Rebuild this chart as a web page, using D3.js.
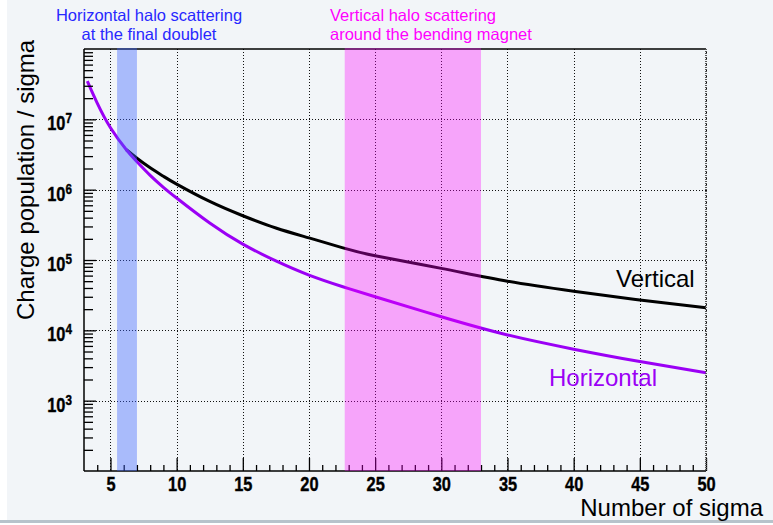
<!DOCTYPE html>
<html>
<head>
<meta charset="utf-8">
<script src="https://cdn.jsdelivr.net/npm/d3@7"></script>
<style>
	html, body { margin: 0; padding: 0; background: #ffffff; }
	svg { display: block; font-family: "Liberation Sans", Arial, sans-serif; }
</style>
</head>
<body>
<svg id="chart" width="773" height="525"></svg>
<script>
// values
var sigmaH = [3.25, 4, 5, 6.2, 7, 8, 9, 10, 12.5, 15, 17.5, 20, 22.5, 25, 30, 35, 40, 45, 50];
var horizontal = [3.5e7, 1.7e7, 7.6e6, 3.7e6, 2.5e6, 1.6e6, 1.08e6, 7.6e5, 3.35e5, 1.68e5, 9.7e4, 6.1e4, 4.2e4, 3.0e4, 1.56e4, 8.6e3, 5.4e3, 3.6e3, 2.5e3];
var sigmaV = [6.2, 7, 8, 9, 10, 12.5, 15, 17.5, 20, 22.5, 25, 30, 35, 40, 45, 50];
var vertical = [3.7e6, 2.8e6, 2.05e6, 1.55e6, 1.2e6, 6.8e5, 4.26e5, 2.85e5, 2.06e5, 1.5e5, 1.15e5, 7.6e4, 5.0e4, 3.6e4, 2.7e4, 2.1e4];

var xMajor = [5, 10, 15, 20, 25, 30, 35, 40, 45, 50];
var xMinor = d3.range(4, 50).filter(v => v % 5 !== 0);
var yMajor = [1e3, 1e4, 1e5, 1e6, 1e7];
var yExp = [3, 4, 5, 6, 7];
var yMinor = [];
[1e2, 1e3, 1e4, 1e5, 1e6, 1e7].forEach(dec => {
	d3.range(2, 10).forEach(k => yMinor.push(k * dec));
});

var bandRanges = [[5.5, 7], [22.7, 33]];
var bandNotes = [
	["Horizontal halo scattering", "at the final doublet"],
	["Vertical halo scattering", "around the bending magnet"]
];

function makeChart() {
	var svg = d3.select("#chart");
	var left = 84, right = 706, top = 49, bottom = 471;

	var x = d3.scaleLinear().domain([3, 50]).range([left, right]);
	var y = d3.scaleLog().domain([1e2, 1e8]).range([bottom, top]);

	// canvas
	svg.append("rect").attr("x", 7).attr("y", 0).attr("width", 766).attr("height", 520).attr("fill", "#f2f5f8");
	svg.append("rect").attr("x", 0).attr("y", 520).attr("width", 773).attr("height", 3).attr("fill", "#b7c3cb");

	// grid
	var grid = svg.append("g").attr("stroke", "#111").attr("stroke-width", 1.2)
		.attr("stroke-dasharray", "1,2").attr("shape-rendering", "crispEdges");
	grid.selectAll("line.gx").data(xMajor).enter().append("line")
		.attr("x1", d => Math.round(x(d)) + 0.5).attr("x2", d => Math.round(x(d)) + 0.5)
		.attr("y1", top).attr("y2", bottom);
	grid.selectAll("line.gy").data(yMajor).enter().append("line")
		.attr("x1", left).attr("x2", right)
		.attr("y1", d => Math.round(y(d)) + 0.5).attr("y2", d => Math.round(y(d)) + 0.5);

	// curves
	var line = d3.line().x(d => x(d[0])).y(d => y(d[1])).curve(d3.curveNatural);
	svg.append("path").datum(d3.zip(sigmaV, vertical))
		.attr("d", line).attr("fill", "none").attr("stroke", "#000").attr("stroke-width", 3);
	svg.append("path").datum(d3.zip(sigmaH, horizontal))
		.attr("d", line).attr("fill", "none").attr("stroke", "#9b00f5").attr("stroke-width", 3);

	// axes
	var xAxis = svg.append("g").attr("transform", "translate(0," + bottom + ")")
		.call(d3.axisBottom(x).tickValues(xMajor).tickSize(-13).tickSizeOuter(0).tickPadding(5));
	svg.append("g").attr("transform", "translate(0," + bottom + ")")
		.call(d3.axisBottom(x).tickValues(xMinor).tickSize(-6).tickSizeOuter(0).tickFormat(""));
	svg.append("g").attr("transform", "translate(" + left + ",0)")
		.call(d3.axisLeft(y).tickValues(yMajor).tickSize(-12).tickSizeOuter(0).tickFormat(""));
	svg.append("g").attr("transform", "translate(" + left + ",0)")
		.call(d3.axisLeft(y).tickValues(yMinor).tickSize(-9).tickSizeOuter(0).tickFormat(""));
	svg.selectAll(".domain").remove();
	svg.selectAll(".tick line").attr("stroke", "#000").attr("stroke-width", 1.3);

	xAxis.selectAll(".tick text")
		.attr("font-size", 21).attr("font-weight", "bold").attr("fill", "#000")
		.attr("font-family", "Liberation Sans, Arial, sans-serif")
		.attr("stroke", "#000").attr("stroke-width", 0.4)
		.attr("transform", "scale(0.78,1)");

	var yl = svg.append("g").selectAll("text").data(yMajor).enter().append("text")
		.attr("transform", d => "translate(72," + (y(d) + 11) + ") scale(0.78,1)")
		.attr("text-anchor", "end").attr("font-weight", "bold").attr("fill", "#000")
		.attr("stroke", "#000").attr("stroke-width", 0.4);
	yl.append("tspan").attr("font-size", 21).text("10");
	yl.append("tspan").attr("font-size", 15).attr("dy", -7).text((d, i) => yExp[i]);

	// frame
	var frame = svg.append("g").attr("stroke", "#000").attr("stroke-width", 1.5);
	frame.append("line").attr("x1", left).attr("x2", right).attr("y1", top).attr("y2", top);
	frame.append("line").attr("x1", left).attr("x2", right).attr("y1", bottom).attr("y2", bottom);
	frame.append("line").attr("x1", left).attr("x2", left).attr("y1", top).attr("y2", bottom);
	svg.append("line").attr("x1", right).attr("x2", right).attr("y1", top).attr("y2", bottom)
		.attr("stroke", "#555").attr("stroke-width", 2).attr("stroke-dasharray", "1,1");

	// shaded regions, drawn over the curves
	var bandFill = ["rgba(60,100,255,0.4)", "rgba(255,0,255,0.33)"];
	svg.selectAll("rect.band").data(bandRanges).enter().append("rect")
		.attr("class", "band")
		.attr("x", d => x(d[0])).attr("width", d => x(d[1]) - x(d[0]))
		.attr("y", top - 1).attr("height", bottom - top + 1)
		.attr("fill", (d, i) => bandFill[i]);

	// notes above the bands
	var noteColor = ["#2828ff", "#ff00ff"];
	var noteX = [149, 330];
	var noteAnchor = ["middle", "start"];
	bandNotes.forEach((lines, i) => {
		svg.append("g").selectAll("text").data(lines).enter().append("text")
			.attr("x", noteX[i]).attr("y", (d, j) => 21 + j * 19)
			.attr("text-anchor", noteAnchor[i])
			.attr("font-size", 16.5).attr("fill", noteColor[i])
			.text(d => d);
	});

	// series labels
	svg.append("text").attr("x", 616).attr("y", 287).attr("font-size", 24).attr("fill", "#000").text("Vertical");
	svg.append("text").attr("x", 549).attr("y", 386).attr("font-size", 24).attr("fill", "#9b00f5").text("Horizontal");

	// axis titles
	svg.append("text").attr("x", 763).attr("y", 516).attr("text-anchor", "end")
		.attr("font-size", 24).attr("fill", "#000").text("Number of sigma");
	svg.append("text").attr("transform", "translate(34,320) rotate(-90)")
		.attr("font-size", 24).attr("fill", "#000").text("Charge population / sigma");
}

window.addEventListener('DOMContentLoaded', makeChart);
</script>
</body>
</html>
